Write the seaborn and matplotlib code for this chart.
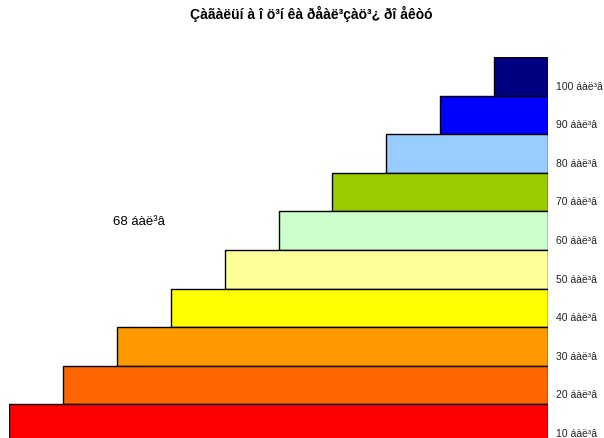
import matplotlib
matplotlib.use("Agg")
import matplotlib.pyplot as plt
import seaborn as sns


scores = ["100", "90", "80", "70", "60", "50", "40", "30", "20", "10"]
bar_lengths = [1, 2, 3, 4, 5, 6, 7, 8, 9, 10]
colors = ["#000080", "#0000FF", "#99CCFF", "#99CC00", "#CCFFCC",
          "#FFFF99", "#FFFF00", "#FF9900", "#FF6600", "#FF0000"]
unit = " áàë³â"
title = "Çàãàëüí à î ö³í êà ðåàë³çàö³¿ ðî åêòó"
total_label = "68" + unit

sns.set_style("white")
plt.rcParams["font.family"] = ["Liberation Sans", "DejaVu Sans"]
plt.rcParams["text.color"] = "black"
plt.rcParams["ytick.color"] = "black"

fig = plt.figure(figsize=(6.04, 4.38), dpi=100)
ax = fig.add_axes([9 / 604, -0.0114, 539 / 604, 0.881])

sns.barplot(
    x=bar_lengths,
    y=scores,
    orient="h",
    hue=scores,
    palette=colors,
    saturation=1,
    legend=False,
    width=1,
    edgecolor="black",
    linewidth=1,
    ax=ax
)

ax.set_xlim(10, 0)
ax.set_ylim(9.5, -0.5)
ax.set_xticks([])
ax.yaxis.tick_right()
ax.set_yticks([i + 0.24 for i in range(len(scores))])
ax.set_yticklabels([s + unit for s in scores], fontsize=7.5)
ax.tick_params(axis="y", length=0, pad=6, labelcolor="#222222")
ax.set_xlabel("")
ax.set_ylabel("")
for s in ax.spines.values():
    s.set_visible(False)

fig.text(311 / 604, 1 - 14 / 438, title, ha="center", va="center",
         fontsize=10, fontweight="bold")
fig.text(113 / 604, 1 - 222 / 438, total_label, ha="left", va="center",
         fontsize=9.5)

fig.savefig("out.png", dpi=100)
